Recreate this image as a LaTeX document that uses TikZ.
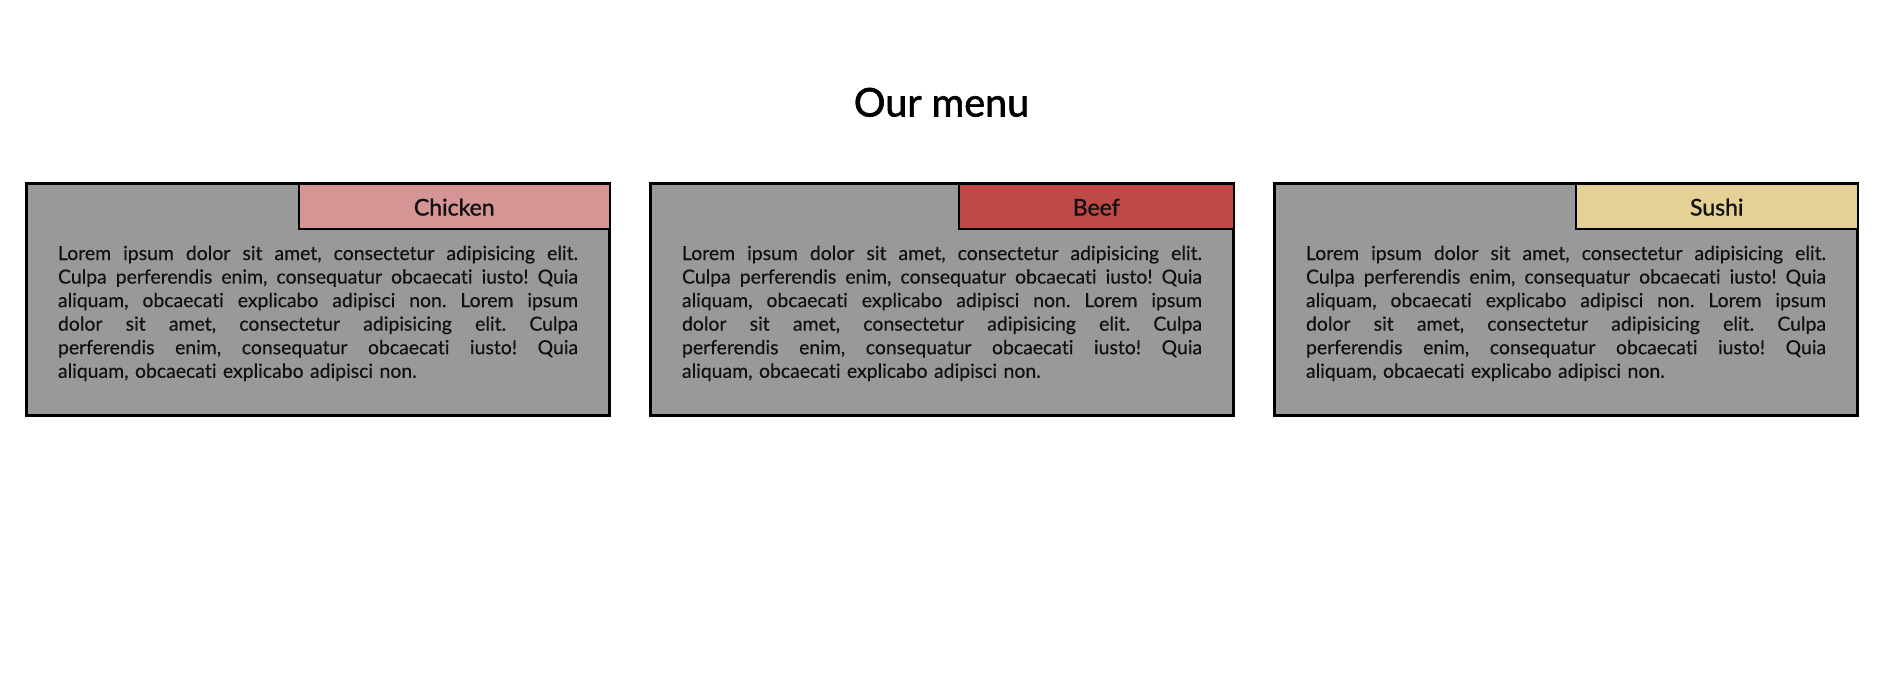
\documentclass[tikz,border=0pt]{standalone}
\usepackage{fontspec}
\setmainfont{Lato}[Ligatures=NoCommon]
\newfontface\mybodyface{Lato}[FakeBold=0.4, Ligatures=NoCommon]
\newfontface\mylabelface{Lato}[FakeBold=1.1, Ligatures=NoCommon]
\newfontface\mytitleface{Lato}[FakeBold=1.6, Ligatures=NoCommon]
\definecolor{cardgray}{RGB}{153,153,153}
\definecolor{chickenc}{RGB}{212,149,148}
\definecolor{beefc}{RGB}{192,72,70}
\definecolor{sushic}{RGB}{229,208,150}
\definecolor{inkc}{RGB}{17,17,17}
\newcommand\myjustline[1]{\makebox[520pt][s]{\spaceskip=\fontdimen2\font plus 1fil\relax #1}\\}
\newcommand\mylorem{\frenchspacing
\myjustline{Lorem ipsum dolor sit amet, consectetur adipisicing elit.}
\myjustline{Culpa perferendis enim, consequatur obcaecati iusto! Quia}
\myjustline{aliquam, obcaecati explicabo adipisci non. Lorem ipsum}
\myjustline{dolor sit amet, consectetur adipisicing elit. Culpa}
\myjustline{perferendis enim, consequatur obcaecati iusto! Quia}
aliquam, obcaecati explicabo adipisci non.}
\begin{document}
\begin{tikzpicture}[x=1pt,y=-1pt,
  card/.style={draw=black, line width=3pt, fill=cardgray, inner sep=0pt, outer sep=0pt,
    minimum width=583pt, minimum height=232pt, anchor=north west},
  tabbox/.style={draw=black, line width=2pt, inner sep=0pt, outer sep=0pt,
    minimum height=45.5pt, anchor=north east, text height=18.5pt, text depth=0pt,
    font=\mylabelface\fontsize{23}{27}\selectfont, text=inkc},
  body/.style={text width=520pt, inner sep=0pt, outer sep=0pt, anchor=base west,
    font=\mybodyface\fontsize{19.4}{23.55}\selectfont, text=inkc},
  titletext/.style={font=\mytitleface\fontsize{39.5}{46}\selectfont, anchor=base, inner sep=0pt, text=black}
]
\useasboundingbox (0,0) rectangle (1879,683);
\fill[white] (0,0) rectangle (1879,683);

\node[titletext] (title) at (941.5,116.5) {Our menu};

% cards
\node[card] (card1) at (26.5,183.5) {};
\node[card] (card2) at (650.5,183.5) {};
\node[card] (card3) at (1274.5,183.5) {};

% tabs
\node[tabbox, fill=chickenc, minimum width=310.5pt] (tab1) at (card1.north east) {Chicken};
\node[tabbox, fill=beefc, minimum width=274.5pt] (tab2) at (card2.north east) {Beef};
\node[tabbox, fill=sushic, minimum width=281.5pt] (tab3) at (card3.north east) {Sushi};

% body text
\node[body] (text1) at (58,260) {\mylorem};
\node[body] (text2) at (682,260) {\mylorem};
\node[body] (text3) at (1306,260) {\mylorem};
\end{tikzpicture}
\end{document}
